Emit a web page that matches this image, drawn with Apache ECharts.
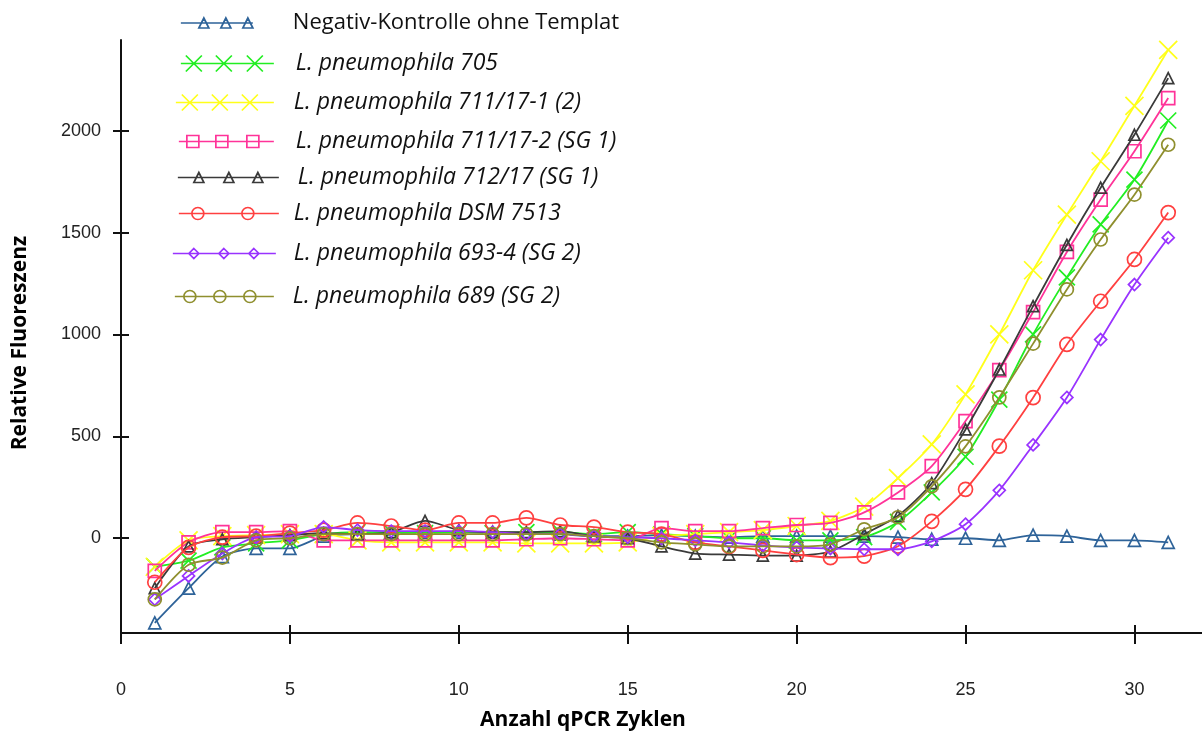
<!DOCTYPE html>
<html>
<head>
<meta charset="utf-8">
<script src="https://cdn.jsdelivr.net/npm/echarts@6/dist/echarts.min.js"></script>
<style>html,body{margin:0;padding:0;background:#fff}#c{width:1202px;height:736px}</style>
</head>
<body>
<div id="c"></div>
<script>
// ---- data ----
const cycles = [1,2,3,4,5,6,7,8,9,10,11,12,13,14,15,16,17,18,19,20,21,22,23,24,25,26,27,28,29,30,31];
const seriesNames = [
  'Negativ-Kontrolle ohne Templat',
  'L. pneumophila 705',
  'L. pneumophila 711/17-1 (2)',
  'L. pneumophila 711/17-2 (SG 1)',
  'L. pneumophila 712/17 (SG 1)',
  'L. pneumophila DSM 7513',
  'L. pneumophila 693-4 (SG 2)',
  'L. pneumophila 689 (SG 2)'
];
const negKontrolle = [-415,-245,-90,-50,-50,10,20,25,30,30,30,25,20,10,10,15,10,5,10,10,10,10,5,-5,0,-10,15,10,-10,-10,-20];
const lp705        = [-140,-110,-45,-25,-10,20,30,30,25,30,25,30,30,20,30,20,10,0,0,-10,-10,5,80,225,400,680,1000,1280,1540,1760,2050];
const lp711_1      = [-140,-10,10,15,20,20,-10,-20,-20,-20,-20,-25,-25,-25,-20,10,20,30,40,60,85,155,295,461,706,1000,1315,1588,1850,2122,2397];
const lp711_2      = [-160,-20,30,30,35,-10,-10,-10,-10,-10,-10,-5,0,-5,-10,50,35,35,50,65,75,127,225,354,575,825,1110,1405,1662,1899,2160];
const lp712        = [-245,-40,-5,5,15,25,20,30,85,40,30,30,35,10,0,-40,-75,-80,-85,-85,-65,20,110,270,534,828,1139,1440,1720,1980,2258];
const lpDSM7513    = [-216,-45,5,10,25,40,75,60,40,75,75,100,65,55,30,20,-20,-40,-60,-80,-95,-88,-39,83,240,452,690,951,1163,1368,1598];
const lp693_4      = [-300,-185,-75,5,10,55,40,35,35,35,30,20,20,10,5,0,-10,-20,-35,-45,-50,-54,-54,-15,69,235,458,691,975,1245,1475];
const lp689        = [-300,-130,-95,-10,0,20,20,20,20,20,20,20,20,10,0,-20,-30,-40,-40,-40,-30,44,103,255,451,691,955,1221,1466,1686,1931];
const xTickValues = [0,5,10,15,20,25,30];
const yTickValues = [0,500,1000,1500,2000];
const xAxisTitle = 'Anzahl qPCR Zyklen';
const yAxisTitle = 'Relative Fluoreszenz';

const allValues = [negKontrolle, lp705, lp711_1, lp711_2, lp712, lpDSM7513, lp693_4, lp689];

// ---- styles ----
const X_PATH = 'path://M0,0L10,10M10,0L0,10';
const styles = [
  {color:'#2E6399', symbol:'triangle', mk:'tri',  size:12, width:1.8},
  {color:'#22EE22', symbol:X_PATH,     mk:'x',    size:16, width:1.8},
  {color:'#FFFF1A', symbol:X_PATH,     mk:'x',    size:18, width:1.8},
  {color:'#FF3399', symbol:'rect',     mk:'rect', size:13, width:1.8},
  {color:'#3A3A3A', symbol:'triangle', mk:'tri',  size:11, width:1.8},
  {color:'#FF4040', symbol:'circle',   mk:'circ', size:14, width:1.8},
  {color:'#9933FF', symbol:'diamond',  mk:'dia',  size:12, width:1.8},
  {color:'#8F8F2E', symbol:'circle',   mk:'circ', size:13, width:1.8}
];
// legend layout: icon left, icon width, marker centres (relative), marker radius, text start, row centre
const legendLayout = [
  {left:180, w:72,  marks:[23,45,67], r:5, text:292, cy:21},
  {left:180, w:93,  marks:[13,43,74], r:8, text:295, cy:61},
  {left:175, w:98,  marks:[14,44,74], r:8, text:293, cy:100},
  {left:178, w:95,  marks:[14,43,74], r:6, text:295, cy:139},
  {left:177, w:101, marks:[21,51,80], r:5, text:297, cy:175},
  {left:178, w:100, marks:[19,69],    r:6, text:293, cy:211},
  {left:172, w:103, marks:[21,51,81], r:5, text:293, cy:251},
  {left:174, w:99,  marks:[15,45,75], r:6, text:292, cy:294}
];

function markerPath(type, cx, cy, r) {
  switch (type) {
    case 'tri':  return `M${cx},${cy-r}L${cx+r},${cy+r}L${cx-r},${cy+r}Z`;
    case 'x':    return `M${cx-r},${cy-r}L${cx+r},${cy+r}M${cx+r},${cy-r}L${cx-r},${cy+r}`;
    case 'rect': return `M${cx-r},${cy-r}L${cx+r},${cy-r}L${cx+r},${cy+r}L${cx-r},${cy+r}Z`;
    case 'circ': return `M${cx-r},${cy}A${r},${r} 0 1,0 ${cx+r},${cy}A${r},${r} 0 1,0 ${cx-r},${cy}Z`;
    case 'dia':  return `M${cx},${cy-r}L${cx+r},${cy}L${cx},${cy+r}L${cx-r},${cy}Z`;
  }
  return '';
}
const ICON_H = 18;
function legendIcon(i) {
  const L = legendLayout[i];
  const cy = ICON_H / 2;
  let p = `M0,${cy}L${L.w},${cy}`;
  L.marks.forEach(m => { p += markerPath(styles[i].mk, m, cy, L.r); });
  p += `M0,0L0,0M${L.w},${ICON_H}L${L.w},${ICON_H}`;
  return 'path://' + p;
}

const series = allValues.map((vals, i) => ({
  name: seriesNames[i],
  type: 'line',
  xAxisIndex: 0,
  yAxisIndex: 0,
  data: cycles.map((c, k) => [c, vals[k]]),
  smooth: 0.25,
  symbol: styles[i].symbol,
  symbolSize: styles[i].size,
  lineStyle: {color: styles[i].color, width: styles[i].width},
  itemStyle: {color: 'rgba(0,0,0,0)', borderColor: styles[i].color, borderWidth: 1.7},
  emphasis: {disabled: true},
  z: 2 + i
}));

const legends = seriesNames.map((n, i) => {
  const L = legendLayout[i];
  return {
    data: [n],
    left: L.left,
    top: L.cy - ICON_H / 2,
    padding: 0,
    itemWidth: L.w,
    itemHeight: ICON_H,
    icon: legendIcon(i),
    itemStyle: {color: 'rgba(0,0,0,0)', borderColor: styles[i].color, borderWidth: 1.7},
    selectedMode: false,
    textStyle: {
      fontFamily: 'Open Sans',
      fontSize: i === 0 ? 22 : 23,
      fontStyle: i === 0 ? 'normal' : 'italic',
      color: '#111',
      padding: [0, 0, 0, L.text - (L.left + L.w + 5)]
    }
  };
});

const yMin = -465, yMax = 2445, xMin = 0, xMax = 32;
const axisLineStyle = {color: '#111', width: 2};
const hiddenLine = {color: 'rgba(0,0,0,0)', width: 0};

const option = {
  animation: false,
  backgroundColor: '#fff',
  grid: [
    {left: 121, right: 0, top: 40, bottom: 103, containLabel: false},
    {left: 121, right: 0, top: 40, bottom: 103, containLabel: false}
  ],
  legend: legends,
  xAxis: [
    {
      type: 'value', gridIndex: 0, min: xMin, max: xMax, position: 'bottom',
      axisLine: {show: true, onZero: false, lineStyle: axisLineStyle},
      axisTick: {show: true, length: 11, customValues: xTickValues, lineStyle: axisLineStyle},
      axisLabel: {customValues: xTickValues, margin: 48, fontFamily: 'Liberation Sans', fontSize: 18, color: '#222', formatter: v => String(v)},
      splitLine: {show: false}
    },
    {
      type: 'value', gridIndex: 1, min: xMin, max: xMax, position: 'bottom',
      axisLine: {show: true, onZero: false, lineStyle: hiddenLine},
      axisTick: {show: true, inside: true, length: 8, customValues: xTickValues, lineStyle: axisLineStyle},
      axisLabel: {show: false},
      splitLine: {show: false}
    }
  ],
  yAxis: [
    {
      type: 'value', gridIndex: 0, min: yMin, max: yMax, position: 'left',
      axisLine: {show: true, onZero: false, lineStyle: axisLineStyle},
      axisTick: {show: true, length: 8, customValues: yTickValues, lineStyle: axisLineStyle},
      axisLabel: {customValues: yTickValues, margin: 20, fontFamily: 'Liberation Sans', fontSize: 18, color: '#222', formatter: v => String(v)},
      splitLine: {show: false}
    },
    {
      type: 'value', gridIndex: 1, min: yMin, max: yMax, position: 'left',
      axisLine: {show: true, onZero: false, lineStyle: hiddenLine},
      axisTick: {show: true, inside: true, length: 8, customValues: yTickValues, lineStyle: axisLineStyle},
      axisLabel: {show: false},
      splitLine: {show: false}
    }
  ],
  graphic: [
    {
      type: 'text', x: 583, y: 720,
      style: {text: xAxisTitle, fontFamily: 'Open Sans', fontWeight: 'bold', fontSize: 21, fill: '#000', align: 'center', verticalAlign: 'middle'}
    },
    {
      type: 'text', x: 20, y: 343, rotation: Math.PI / 2,
      style: {text: yAxisTitle, fontFamily: 'Open Sans', fontWeight: 'bold', fontSize: 21, fill: '#000', align: 'center', verticalAlign: 'middle'}
    }
  ],
  series: series
};

const chart = echarts.init(document.getElementById('c'), null, {renderer: 'canvas'});
chart.setOption(option);
</script>
</body>
</html>
